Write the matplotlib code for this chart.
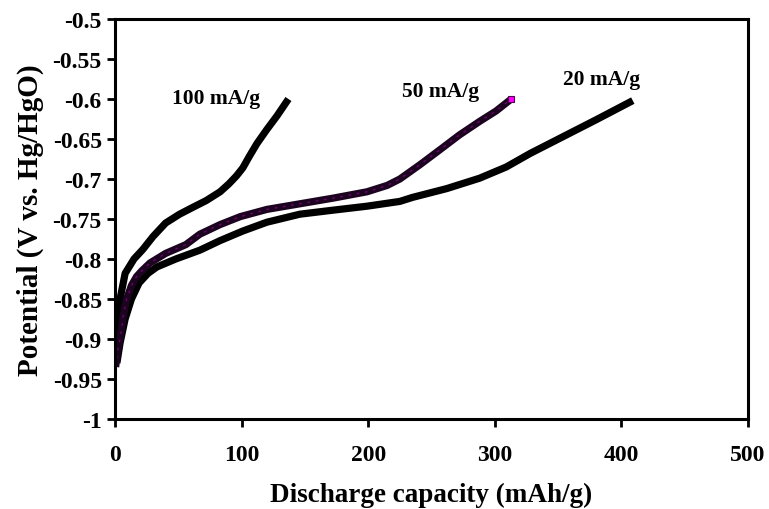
import matplotlib
matplotlib.use("Agg")
import matplotlib.pyplot as plt

plt.rcParams['font.family'] = ['Liberation Serif', 'DejaVu Serif']
plt.rcParams['font.weight'] = 'bold'

# 100 mA/g
cap_100 = [0.5, 1, 2, 4, 8, 15, 22, 30, 40, 51, 62, 72, 83, 90, 96, 101, 106, 112, 120, 128, 137]
pot_100 = [-0.92, -0.90, -0.88, -0.85, -0.818, -0.80, -0.788, -0.772, -0.755, -0.744,
           -0.735, -0.727, -0.716, -0.706, -0.696, -0.686, -0.672, -0.656, -0.638, -0.621, -0.60]

# 50 mA/g
cap_50 = [0.5, 2, 4, 6.6, 9.2, 13, 17, 21, 27.6, 40, 56, 67, 83, 99, 120, 146, 172, 199,
          215, 225, 241, 257, 272, 288, 301, 313]
pot_50 = [-0.935, -0.915, -0.90, -0.87, -0.85, -0.833, -0.822, -0.815, -0.805, -0.793,
          -0.782, -0.769, -0.757, -0.747, -0.738, -0.731, -0.724, -0.716, -0.708, -0.70,
          -0.682, -0.663, -0.645, -0.628, -0.615, -0.60]

# 20 mA/g
cap_20 = [1.5, 4, 8, 13, 19, 26, 33, 48, 67, 83, 101, 120, 146, 172, 199, 225, 235, 262,
          288, 309, 328, 354, 380, 409]
pot_20 = [-0.93, -0.905, -0.875, -0.85, -0.83, -0.818, -0.81, -0.80, -0.789, -0.777,
          -0.765, -0.754, -0.744, -0.739, -0.734, -0.728, -0.723, -0.712, -0.699, -0.685,
          -0.668, -0.647, -0.626, -0.602]

labels = ["100 mA/g", "50 mA/g", "20 mA/g"]
label_pos = [(80, -0.599), (257, -0.59), (384, -0.575)]

x_ticks = [0, 100, 200, 300, 400, 500]
y_ticks = [-1, -0.95, -0.9, -0.85, -0.8, -0.75, -0.7, -0.65, -0.6, -0.55, -0.5]
y_tick_labels = ["-1", "-0.95", "-0.9", "-0.85", "-0.8", "-0.75", "-0.7", "-0.65", "-0.6", "-0.55", "-0.5"]

fig = plt.figure(figsize=(7.69, 5.10), dpi=100)
ax = fig.add_axes([115/769, 1-420/510, (748-115)/769, 400/510])

ax.plot(cap_20, pot_20, color='black', lw=5.2, solid_capstyle='butt', solid_joinstyle='round')
ax.plot(cap_100, pot_100, color='black', lw=5.2, solid_capstyle='butt', solid_joinstyle='round')
ax.plot(cap_50, pot_50, color='#1c0420', lw=5.2, solid_capstyle='butt', solid_joinstyle='round')
ax.plot(cap_50, pot_50, color='#b000b0', lw=1.0, ls=(0, (2, 4)), alpha=0.55)
ax.plot([cap_50[-1]], [pot_50[-1]], marker='s', ms=5, color='magenta', mec='#500050', mew=0.8)

for txt, (x, y) in zip(labels, label_pos):
    ax.text(x, y, txt, ha='center', va='center', fontsize=15.5, fontweight='bold')

ax.set_xlim(0, 500)
ax.set_ylim(-1, -0.5)
ax.set_xticks(x_ticks)
ax.set_yticks(y_ticks)
ax.set_yticklabels(y_tick_labels)
ax.tick_params(direction='out', width=2, length=6, labelsize=17, pad=3.5)
for lab in ax.get_xticklabels() + ax.get_yticklabels():
    lab.set_fontweight('bold')
ax.tick_params(axis='x', pad=12)
for sp in ax.spines.values():
    sp.set_linewidth(2.2)

ax.set_xlabel("Discharge capacity (mAh/g)", fontsize=19.5, fontweight='bold', labelpad=12)
ax.set_ylabel("Potential (V vs. Hg/HgO)", fontsize=21, fontweight='bold', labelpad=6)

fig.savefig("out.png", dpi=100)
